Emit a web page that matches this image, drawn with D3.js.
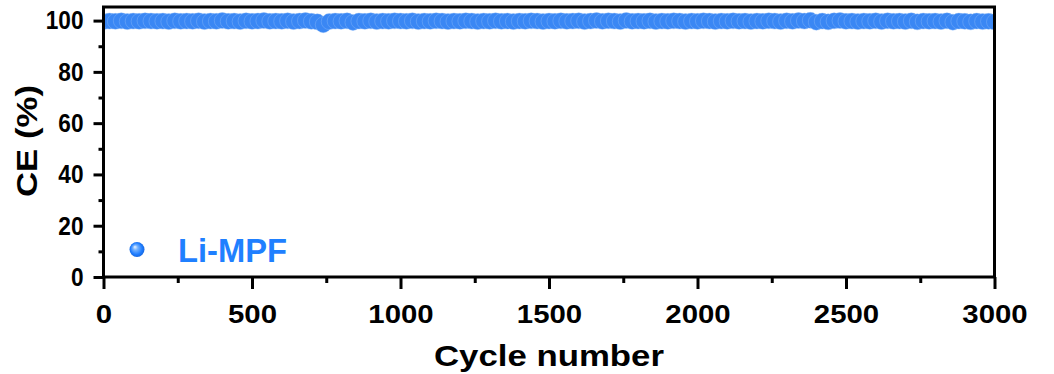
<!DOCTYPE html>
<html>
<head>
<meta charset="utf-8">
<script src="https://cdn.jsdelivr.net/npm/d3@7"></script>
<style>
  body { margin: 0; background: #fff; }
  text { font-family: "Liberation Sans", Arial, sans-serif; font-weight: bold; }
</style>
</head>
<body>
<svg id="canvas" width="1054" height="374"></svg>
<script>
// CE (%), one value every 20 cycles
let cycles = d3.range(0, 3001, 20)
let ce = [
  99.6, 99.8, 99.7, 99.9, 99.6, 99.8, 99.7, 99.9, 99.8, 99.7,
  99.8, 99.6, 99.9, 99.7, 99.8, 99.7, 99.9, 99.6, 99.8, 99.7,
  100.0, 99.7, 99.8, 99.6, 99.9, 99.7, 99.8, 100.0, 99.7, 99.8,
  99.7, 99.9, 99.6, 99.8, 100.0, 99.7, 99.5, 98.4, 99.6, 99.8,
  99.7, 99.9, 99.3, 99.8, 99.7, 99.9, 99.6, 99.8, 99.7, 99.9,
  99.8, 99.7, 99.9, 99.6, 99.8, 99.7, 99.9, 99.8, 99.6, 99.8,
  99.7, 99.9, 99.8, 99.6, 99.8, 99.7, 99.9, 99.7, 99.8, 99.6,
  99.8, 99.7, 99.9, 99.8, 99.6, 99.8, 99.7, 99.9, 99.7, 99.8,
  99.9, 99.6, 99.8, 100.0, 99.7, 99.9, 99.8, 99.6, 100.0, 99.7,
  99.8, 99.7, 99.9, 99.6, 99.8, 99.7, 99.9, 99.8, 99.6, 99.8,
  99.7, 99.9, 99.8, 99.6, 99.8, 99.7, 99.9, 99.7, 99.8, 99.6,
  99.8, 99.7, 99.9, 99.8, 99.6, 99.9, 99.7, 100.0, 99.8, 100.1,
  99.4, 99.8, 99.5, 99.9, 100.0, 99.7, 99.8, 99.6, 99.8, 99.7,
  99.9, 99.6, 99.9, 99.7, 99.8, 99.6, 99.9, 99.5, 99.8, 99.7,
  99.8, 99.6, 99.9, 99.4, 99.8, 99.7, 99.5, 99.8, 99.6, 99.7,
  99.5
]
let xTicks = [0, 500, 1000, 1500, 2000, 2500, 3000]
let xMinor = [250, 750, 1250, 1750, 2250, 2750]
let yTicks = [0, 20, 40, 60, 80, 100]
let yMinor = [10, 30, 50, 70, 90]
let serie = 'Li-MPF'

let canvas = d3.select('#canvas')

// cadre du graphe
let gauche = 103.5, droite = 994.5, haut = 7, bas = 277

let x = d3.scaleLinear().domain([0, 3000]).range([gauche, droite])
let y = d3.scaleLinear().domain([0, 105.3]).range([bas, haut])

// dégradé pour la boule de la légende
let defs = canvas.append('defs')
let grad = defs.append('radialGradient').attr('id', 'boule')
  .attr('cx', '50%').attr('cy', '50%').attr('r', '55%')
  .attr('fx', '35%').attr('fy', '32%')
grad.append('stop').attr('offset', '0%').attr('stop-color', '#eef6ff')
grad.append('stop').attr('offset', '30%').attr('stop-color', '#74b2ff')
grad.append('stop').attr('offset', '70%').attr('stop-color', '#1f7dff')
grad.append('stop').attr('offset', '100%').attr('stop-color', '#1462d8')

defs.append('clipPath').attr('id', 'clip')
  .append('rect').attr('x', gauche).attr('y', haut)
  .attr('width', droite - gauche).attr('height', bas - haut)

// points
canvas.append('g').attr('clip-path', 'url(#clip)')
  .selectAll('circle')
  .data(cycles.map((c, i) => ({ c: c, v: ce[i] })))
  .enter()
  .append('circle')
  .attr('cx', d => x(d.c))
  .attr('cy', d => y(d.v))
  .attr('r', 8)
  .attr('fill', '#3a87f4')
  .attr('stroke', '#8dbcf8')
  .attr('stroke-width', 0.4)

// axes
let styleAxe = g => {
  g.select('.domain').remove()
  g.selectAll('line').attr('stroke', '#000').attr('stroke-width', 3)
}

let axeY = canvas.append('g').attr('transform', `translate(${gauche},0)`)
  .call(d3.axisLeft(y).tickValues(yTicks).tickSize(10).tickPadding(10))
  .call(styleAxe)
axeY.selectAll('text')
  .attr('font-size', 26)
  .attr('fill', '#000')
  .attr('x', -20 / 0.87)
  .attr('transform', 'scale(0.87,1)')

canvas.append('g').attr('transform', `translate(${gauche},0)`)
  .call(d3.axisLeft(y).tickValues(yMinor).tickSize(5).tickFormat(''))
  .call(styleAxe)

let axeX = canvas.append('g').attr('transform', `translate(0,${bas})`)
  .call(d3.axisBottom(x).tickValues(xTicks).tickSize(12).tickFormat(d3.format('d')))
  .call(styleAxe)
axeX.selectAll('text')
  .attr('font-size', 26)
  .attr('fill', '#000')
  .attr('y', 46)
  .attr('dy', null)
  .attr('transform', 'scale(1.13,1)')

canvas.append('g').attr('transform', `translate(0,${bas})`)
  .call(d3.axisBottom(x).tickValues(xMinor).tickSize(6).tickFormat(''))
  .call(styleAxe)

canvas.append('rect')
  .attr('x', gauche).attr('y', haut)
  .attr('width', droite - gauche).attr('height', bas - haut)
  .attr('fill', 'none').attr('stroke', '#000').attr('stroke-width', 3)

// titres
canvas.append('text')
  .attr('x', (gauche + droite) / 2).attr('y', 366)
  .attr('text-anchor', 'middle')
  .attr('font-size', 30)
  .attr('textLength', 230).attr('lengthAdjust', 'spacingAndGlyphs')
  .text('Cycle number')

canvas.append('text')
  .attr('transform', 'translate(37,141) rotate(-90)')
  .attr('text-anchor', 'middle')
  .attr('font-size', 29)
  .attr('textLength', 112).attr('lengthAdjust', 'spacingAndGlyphs')
  .text('CE (%)')

// légende
canvas.append('circle')
  .attr('cx', 137).attr('cy', 249.5).attr('r', 7.5)
  .attr('fill', 'url(#boule)')
canvas.append('text')
  .attr('x', 178).attr('y', 261.5)
  .attr('font-size', 34)
  .attr('fill', '#1f80ff')
  .attr('textLength', 109).attr('lengthAdjust', 'spacingAndGlyphs')
  .text(serie)
</script>
</body>
</html>
